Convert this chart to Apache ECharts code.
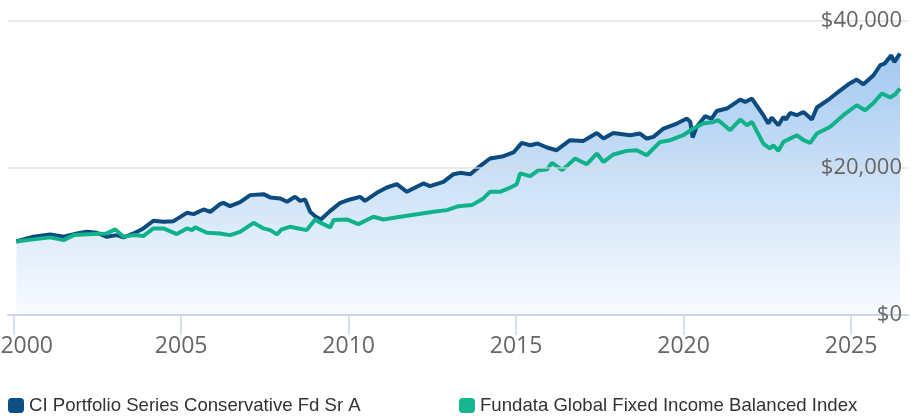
<!DOCTYPE html>
<html>
<head>
<meta charset="utf-8">
<script src="https://cdn.jsdelivr.net/npm/echarts@6/dist/echarts.min.js"></script>
<style>
  html, body { margin: 0; padding: 0; background: #ffffff; }
  #chart { width: 918px; height: 416px; }
</style>
</head>
<body>
<div id="chart"></div>
<script>
// Growth of $10,000 — fund vs. benchmark, decimal-year sample points
const ciName = 'CI Portfolio Series Conservative Fd Sr A';
const idxName = 'Fundata Global Fixed Income Balanced Index';

const ciYears = [
  2000.08, 2000.29, 2000.59, 2001.09, 2001.49, 2001.89, 2002.18, 2002.48, 2002.78, 2003.08,
  2003.28, 2003.58, 2003.87, 2004.17, 2004.47, 2004.77, 2005.17, 2005.37, 2005.67, 2005.87,
  2006.16, 2006.26, 2006.46, 2006.76, 2007.06, 2007.46, 2007.66, 2007.96, 2008.16, 2008.40,
  2008.55, 2008.70, 2008.85, 2009.00, 2009.17, 2009.45, 2009.75, 2010.04, 2010.34, 2010.49,
  2010.84, 2011.14, 2011.44, 2011.74, 2011.93, 2012.23, 2012.43, 2012.83, 2013.13, 2013.33,
  2013.63, 2013.93, 2014.22, 2014.62, 2014.92, 2015.17, 2015.42, 2015.64, 2015.92, 2016.21,
  2016.61, 2017.01, 2017.41, 2017.61, 2017.90, 2018.40, 2018.70, 2018.90, 2019.10, 2019.40,
  2019.80, 2020.10, 2020.20, 2020.27, 2020.39, 2020.64, 2020.84, 2020.99, 2021.29, 2021.69,
  2021.84, 2022.04, 2022.38, 2022.53, 2022.63, 2022.83, 2022.98, 2023.06, 2023.18, 2023.38,
  2023.58, 2023.83, 2023.98, 2024.37, 2024.62, 2024.92, 2025.17, 2025.37, 2025.67, 2025.87,
  2026.00, 2026.20, 2026.29, 2026.46
];
const ciValues = [
  10000, 10290, 10640, 10960, 10640, 11100, 11320, 11190, 10640, 10870,
  10560, 11100, 11780, 12820, 12680, 12770, 13900, 13720, 14360, 14040,
  15080, 15260, 14810, 15360, 16310, 16440, 16000, 15860, 15400, 16080,
  15530, 15720, 14040, 13450, 13000, 14170, 15260, 15720, 16080, 15530,
  16620, 17350, 17800, 16760, 17220, 17900, 17530, 18120, 19160, 19340,
  19160, 20290, 21290, 21610, 22110, 23420, 23100, 23330, 22790, 22420,
  23780, 23690, 24770, 24010, 24770, 24460, 24690, 24010, 24230, 25370,
  26050, 26730, 26270, 24150, 25590, 27040, 26730, 27760, 28090, 29310,
  28990, 29450, 27180, 26050, 26870, 25820, 26950, 26590, 27490, 27180,
  27630, 26590, 28230, 29450, 30350, 31390, 32030, 31390, 32620, 33980,
  34200, 35330, 34420, 35570
];

const idxYears = [
  2000.08, 2000.59, 2001.09, 2001.49, 2001.79, 2002.38, 2002.78, 2003.03, 2003.28, 2003.58,
  2003.87, 2004.17, 2004.47, 2004.87, 2005.17, 2005.32, 2005.42, 2005.77, 2006.16, 2006.46,
  2006.76, 2007.16, 2007.46, 2007.66, 2007.86, 2008.00, 2008.25, 2008.50, 2008.75, 2009.00,
  2009.20, 2009.45, 2009.55, 2009.95, 2010.29, 2010.74, 2011.04, 2011.54, 2012.04, 2012.53,
  2012.93, 2013.28, 2013.68, 2014.02, 2014.22, 2014.52, 2014.77, 2015.02, 2015.12, 2015.42,
  2015.67, 2015.92, 2016.07, 2016.38, 2016.76, 2017.11, 2017.41, 2017.61, 2017.90, 2018.30,
  2018.60, 2018.90, 2019.30, 2019.60, 2019.99, 2020.29, 2020.59, 2020.89, 2021.04, 2021.39,
  2021.69, 2021.89, 2022.04, 2022.38, 2022.58, 2022.68, 2022.83, 2022.98, 2023.38, 2023.58,
  2023.78, 2023.98, 2024.37, 2024.77, 2025.17, 2025.42, 2025.67, 2025.92, 2026.17, 2026.32,
  2026.46
];
const idxValues = [
  10000, 10290, 10560, 10190, 10870, 11010, 11100, 11650, 10640, 10870,
  10740, 11780, 11780, 11010, 11780, 11550, 11920, 11190, 11100, 10870,
  11320, 12540, 11780, 11550, 10960, 11650, 12000, 11780, 11550, 13000,
  12460, 11920, 12910, 13000, 12370, 13360, 13000, 13360, 13720, 14040,
  14270, 14810, 14950, 15860, 16760, 16760, 17220, 17800, 19260, 18890,
  19710, 19800, 20700, 19710, 21290, 20520, 21970, 20830, 21840, 22330,
  22420, 21740, 23550, 23780, 24460, 25370, 26050, 26270, 26500, 25140,
  26590, 25820, 26270, 23330, 22650, 23100, 22330, 23550, 24460, 23780,
  23420, 24690, 25590, 27180, 28540, 27860, 28850, 30130, 29590, 30040,
  30810
];

const yearTicks = [2000, 2005, 2010, 2015, 2020, 2025];

const zip = (xs, ys) => xs.map((x, i) => [x, ys[i]]);

const ciColor = '#0b4b7f';
const idxColor = '#10b28a';

const chart = echarts.init(document.getElementById('chart'), null, { renderer: 'canvas' });

const legendText = { fontFamily: 'Liberation Sans', fontSize: 18.6, color: '#333333' };
const yearLabel = { fontFamily: 'Open Sans', fontSize: 23, color: '#666666' };

chart.setOption({
  animation: false,
  backgroundColor: '#ffffff',
  grid: { left: 8, right: 10, top: 21, bottom: 101, containLabel: false, outerBoundsMode: 'none' },
  legend: [
    {
      data: [{ name: ciName, itemStyle: { color: '#0b4f84' } }],
      left: 8, top: 396, padding: 0, itemWidth: 16, itemHeight: 15, icon: 'roundRect',
      textStyle: legendText, selectedMode: false
    },
    {
      data: [{ name: idxName, itemStyle: { color: '#14b68e' } }],
      left: 459, top: 396, padding: 0, itemWidth: 16, itemHeight: 15, icon: 'roundRect',
      textStyle: legendText, selectedMode: false
    }
  ],
  xAxis: {
    type: 'value',
    min: 1999.83,
    max: 2026.7,
    z: 10,
    splitLine: { show: false },
    axisLine: { show: true, lineStyle: { color: '#ccd6eb', width: 2 } },
    axisTick: { show: true, customValues: yearTicks, length: 20, lineStyle: { color: '#ccd6eb', width: 1.5 } },
    axisLabel: {
      customValues: yearTicks,
      // the first year label is nudged right so it stays inside the canvas
      formatter: v => (Math.round(v) === yearTicks[0] ? '{first|' : '{yr|') + Math.round(v) + '}',
      rich: {
        yr: yearLabel,
        first: Object.assign({ padding: [0, 0, 0, 26] }, yearLabel)
      },
      ...yearLabel,
      margin: 20
    }
  },
  yAxis: {
    type: 'value',
    position: 'right',
    min: 0,
    max: 40000,
    interval: 20000,
    z: 10,
    axisLine: { show: false },
    axisTick: { show: false },
    splitLine: { lineStyle: { color: '#dcdcdc', width: 1.5, opacity: 0.8 } },
    axisLabel: {
      inside: true,
      margin: 6,
      formatter: v => '$' + v.toLocaleString('en-US'),
      fontFamily: 'Open Sans', fontSize: 22, color: '#666666'
    }
  },
  series: [
    {
      name: ciName,
      type: 'line',
      data: zip(ciYears, ciValues),
      showSymbol: false,
      lineStyle: { color: ciColor, width: 4 },
      itemStyle: { color: ciColor },
      areaStyle: {
        color: new echarts.graphic.LinearGradient(0, 0, 0, 1, [
          { offset: 0, color: '#7cb2ea' },
          { offset: 1, color: '#f6f9fe' }
        ])
      },
      z: 2
    },
    {
      name: idxName,
      type: 'line',
      data: zip(idxYears, idxValues),
      showSymbol: false,
      lineStyle: { color: idxColor, width: 4 },
      itemStyle: { color: idxColor },
      z: 3
    }
  ]
});
</script>
</body>
</html>
